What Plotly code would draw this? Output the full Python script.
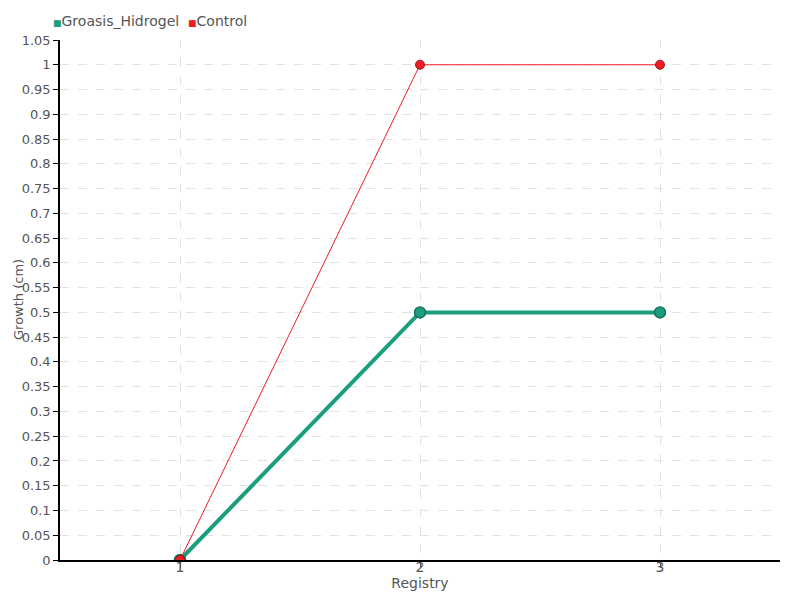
import plotly.graph_objects as go

registry = [1, 2, 3]
groasis_hidrogel = [0, 0.5, 0.5]
control = [0, 1, 1]
series_names = ["Groasis_Hidrogel", "Control"]

green = "#1b9e7e"
red = "#ee1c25"
font_family = "DejaVu Sans, sans-serif"

fig = go.Figure()
fig.add_trace(go.Scatter(
    x=registry, y=groasis_hidrogel, mode="lines+markers", name=series_names[0],
    line=dict(color=green, width=4),
    marker=dict(size=11, color=green, line=dict(color="#17705a", width=1.5)),
))
fig.add_trace(go.Scatter(
    x=registry, y=control, mode="lines+markers", name=series_names[1],
    line=dict(color=red, width=1),
    marker=dict(size=9, color=red, line=dict(color="#a01818", width=1)),
))

legend_text = (
    f"<span style='color:{green};font-size:9px'>■</span>{series_names[0]}  "
    f"<span style='color:{red};font-size:9px'>■</span>{series_names[1]}"
)
fig.add_annotation(
    text=legend_text, xref="paper", yref="paper", x=-0.012, y=1.0,
    xanchor="left", yanchor="bottom", yshift=9, showarrow=False,
    font=dict(size=14, color="#555555", family=font_family),
)
# y axis title
fig.add_annotation(
    text="Growth (cm)", xref="paper", yref="paper", x=0, y=0.5,
    xanchor="center", yanchor="middle", xshift=-42, textangle=-90, showarrow=False,
    font=dict(size=13, color="#555555", family=font_family),
)

fig.update_layout(
    width=792, height=592,
    paper_bgcolor="white", plot_bgcolor="white",
    margin=dict(l=52, r=20, t=32, b=40, autoexpand=False),
    font=dict(family=font_family, size=14, color="#555555"),
    showlegend=False,
)
fig.update_xaxes(
    range=[0.5, 3.5], tickmode="array", tickvals=registry, ticktext=[str(v) for v in registry],
    showline=True, linecolor="black", linewidth=1.5,
    ticks="outside", ticklen=6, tickcolor="#555555",
    ticklabelstandoff=-13,
    showgrid=True, gridcolor="#e2e2e2", griddash="dash", gridwidth=1,
    zeroline=False,
    title=dict(text="Registry", standoff=0, font=dict(size=14)),
)
fig.update_yaxes(
    range=[0, 1.05], dtick=0.05, tick0=0,
    showline=True, linecolor="black", linewidth=1.5,
    ticks="outside", ticklen=5, tickcolor="black",
    tickfont=dict(size=13),
    showgrid=True, gridcolor="#e2e2e2", griddash="dash", gridwidth=1,
    zeroline=False,
)
fig.write_html("out.html")
